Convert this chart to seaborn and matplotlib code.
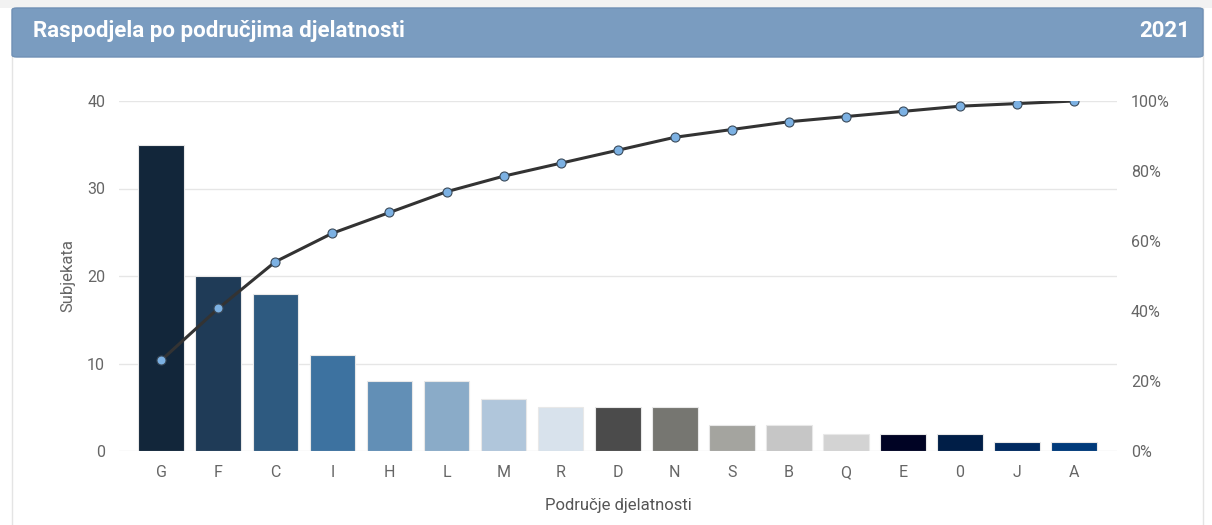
import numpy as np
import seaborn as sns
import matplotlib.pyplot as plt
from matplotlib.patches import FancyBboxPatch, Rectangle
from matplotlib.ticker import FuncFormatter

# data
podrucja = ["G", "F", "C", "I", "H", "L", "M", "R", "D", "N", "S", "B", "Q", "E", "0", "J", "A"]
subjekata = [35, 20, 18, 11, 8, 8, 6, 5, 5, 5, 3, 3, 2, 2, 2, 1, 1]
boje = ["#12263a", "#1f3b57", "#2e5a80", "#3d72a0", "#628fb6", "#8aabc8", "#b0c6db", "#d8e2ec",
        "#4b4b4b", "#767671", "#a4a49f", "#c6c6c6", "#d3d3d3", "#000324", "#001e47", "#002a60", "#003a7a"]

kumulativno = np.cumsum(subjekata) / np.sum(subjekata) * 100

sns.set_style("white")
plt.rcParams["font.family"] = ["Roboto", "DejaVu Sans"]

fig = plt.figure(figsize=(12.12, 5.25), dpi=100)
ax = fig.add_axes([119 / 1212, 1 - 451 / 525, (1117 - 119) / 1212, 350 / 525])

# card background + header band
fig.patches.append(Rectangle((0, 1 - 8 / 525), 1, 8 / 525, transform=fig.transFigure,
                             facecolor="#f2f2f2", edgecolor="none", zorder=-3))
fig.patches.append(Rectangle((12 / 1212, -0.01), (1203 - 12) / 1212, 1 - 8 / 525 + 0.01,
                             transform=fig.transFigure, facecolor="white",
                             edgecolor="#e4e4e4", lw=1, zorder=-2))
fig.patches.append(FancyBboxPatch((12 / 1212, 1 - 57 / 525), (1203 - 12) / 1212, 49 / 525,
                                  boxstyle="round,pad=0,rounding_size=0.004",
                                  transform=fig.transFigure, facecolor="#7a9cc0",
                                  edgecolor="#6f90b5", lw=1, zorder=-1))
fig.text(33 / 1212, 1 - 31 / 525, "Raspodjela po područjima djelatnosti", color="white",
         fontsize=16, fontweight="bold", va="center", ha="left")
fig.text(1190 / 1212, 1 - 31 / 525, "2021", color="white",
         fontsize=16, fontweight="bold", va="center", ha="right")

sns.barplot(x=podrucja, y=subjekata, hue=podrucja, palette=boje, legend=False,
            width=0.8, edgecolor="#e8e8e8", linewidth=0.8, saturation=1, ax=ax)
ax.set_xlim(-0.74, 16.75)
ax.set_ylim(0, 40)
ax.set_yticks([0, 10, 20, 30, 40])
ax.yaxis.grid(True, color="#e6e6e6", lw=1)
ax.set_axisbelow(True)
for s in ax.spines.values():
    s.set_visible(False)
ax.tick_params(axis="both", length=0, colors="#666666", labelsize=11.5)
ax.tick_params(axis="y", pad=10)
ax.tick_params(axis="x", pad=10)
ax.set_ylabel("Subjekata", color="#666666", fontsize=12, labelpad=8)
ax.set_xlabel("Područje djelatnosti", color="#555555", fontsize=12, labelpad=13)

ax2 = ax.twinx()
sns.lineplot(x=np.arange(len(podrucja)), y=kumulativno, ax=ax2, color="#333333", lw=2.2,
             marker="o", markersize=6.5, markerfacecolor="#7cb1e3", markeredgecolor="#3a4a5a",
             markeredgewidth=0.8)
ax2.set_ylim(0, 100)
ax2.set_yticks([0, 20, 40, 60, 80, 100])
ax2.yaxis.set_major_formatter(FuncFormatter(lambda v, p: f"{v:.0f}%"))
ax2.grid(False)
for s in ax2.spines.values():
    s.set_visible(False)
ax2.tick_params(axis="y", length=0, colors="#666666", labelsize=11.5, pad=10)
ax2.set_ylabel("")

fig.savefig("out.png", dpi=100)
